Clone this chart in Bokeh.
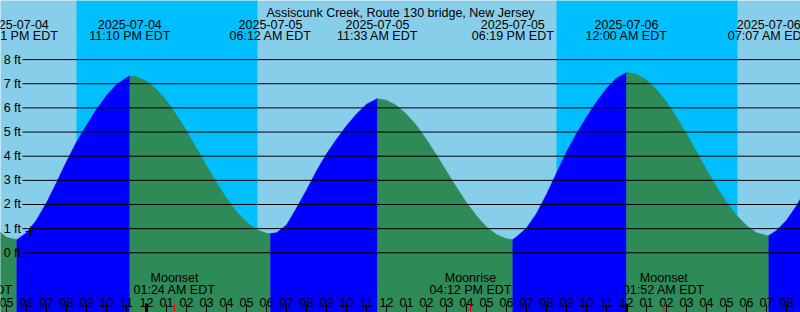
import pandas as pd
from bokeh.plotting import figure
from bokeh.models import Range1d, ColumnDataSource
from bokeh.core.properties import value
from bokeh.embed import file_html
from bokeh.resources import INLINE

# ---------------- data ----------------
TITLE = "Assiscunk Creek, Route 130 bridge, New Jersey"
BASE = pd.Timestamp("2025-07-04 00:00")

# tide extremes (high / low)
event_times = ["2025-07-04 17:31", "2025-07-04 23:10", "2025-07-05 06:12",
               "2025-07-05 11:33", "2025-07-05 18:19", "2025-07-06 00:00",
               "2025-07-06 07:07"]
event_heights = [0.54, 7.33, 0.80, 6.38, 0.55, 7.47, 0.72]
event_date_labels = ["2025-07-04", "2025-07-04", "2025-07-05", "2025-07-05",
                     "2025-07-05", "2025-07-06", "2025-07-06"]
event_time_labels = ["05:31 PM EDT", "11:10 PM EDT", "06:12 AM EDT",
                     "11:33 AM EDT", "06:19 PM EDT", "12:00 AM EDT",
                     "07:07 AM EDT"]

# tide level every 30 minutes from 2025-07-04 16:30
curve_start = "2025-07-04 16:30"
curve_heights = [
    0.98, 0.64, 0.55, 0.83, 1.36, 2.07, 2.91, 3.78, 4.59, 5.28, 5.94, 6.51, 6.97, 7.25,
    7.29, 7.11, 6.77, 6.30, 5.71, 5.05, 4.33, 3.61, 2.90, 2.26, 1.70, 1.26, 0.96, 0.81,
    0.83, 1.15, 1.85, 2.60, 3.39, 4.10, 4.70, 5.26, 5.75, 6.15, 6.37,
    6.32, 6.10, 5.74, 5.27, 4.69, 4.05, 3.38, 2.71, 2.08, 1.53, 1.07, 0.76, 0.58,
    0.66, 1.03, 1.63, 2.42, 3.30, 4.18, 4.94, 5.62, 6.25, 6.80, 7.23, 7.47,
    7.39, 7.15, 6.76, 6.24, 5.62, 4.92, 4.18, 3.44, 2.73, 2.09, 1.55, 1.13, 0.83, 0.72,
    0.92, 1.35, 1.95, 2.68,
]

# night (sunset -> sunrise)
night_start = ["2025-07-04 20:30", "2025-07-05 20:30"]
night_end = ["2025-07-05 05:33", "2025-07-06 05:33"]

# moon events
moon_times = ["2025-07-04 15:14", "2025-07-05 01:24", "2025-07-05 16:12", "2025-07-06 01:52"]
moon_names = ["Moonrise", "Moonset", "Moonrise", "Moonset"]
moon_labels = ["03:14 PM EDT", "01:24 AM EDT", "04:12 PM EDT", "01:52 AM EDT"]

# level axis
level_ticks = [0, 1, 2, 3, 4, 5, 6, 7, 8]
level_labels = ["0 ft", "1 ft", "2 ft", "3 ft", "4 ft", "5 ft", "6 ft", "7 ft", "8 ft"]

# mark
mark_time = ["2025-07-04 18:12"]
mark_level = [0.88]

# ---------------- layout / style ----------------
W, H = 800, 312
X0, X1 = 16.7, 56.7          # hours since 2025-07-04 00:00
Y_TOP, Y_BOT = 10.447, -2.472
DAY = "#87CEEB"
NIGHT = "#00BFFF"
RISE = "#0000FF"
FALL = "#2E8B57"
FONT = value("Liberation Sans")
FS = "12.5px"


def hrs(s):
    return (pd.Timestamp(s) - BASE) / pd.Timedelta(hours=1)


def py(pix):  # pixel row from top -> data y
    return Y_TOP - pix * (Y_TOP - Y_BOT) / H


def px(pix):  # pixel column -> data x
    return X0 + pix * (X1 - X0) / W


ev_t = [hrs(s) for s in event_times]
grid_t = [hrs(curve_start) + 0.5 * i for i in range(len(curve_heights))]

df = pd.concat([
    pd.DataFrame({"t": grid_t, "h": curve_heights, "ev": 0}),
    pd.DataFrame({"t": ev_t, "h": event_heights, "ev": 1}),
])
df["tr"] = df["t"].round(4)
df = df.sort_values(["tr", "ev"]).drop_duplicates("tr", keep="last").sort_values("t")
t = df["t"].to_numpy()
h = df["h"].to_numpy()

p = figure(width=W, height=H, x_range=Range1d(X0, X1), y_range=Range1d(Y_BOT, Y_TOP),
           output_backend="svg", toolbar_location=None, min_border=0,
           x_axis_type=None, y_axis_type=None,
           background_fill_color=DAY, border_fill_color=DAY, outline_line_color=None)
p.grid.visible = False

# night shading
p.quad(left=[hrs(s) for s in night_start], right=[hrs(s) for s in night_end],
       bottom=Y_BOT, top=Y_TOP, fill_color=NIGHT, line_color=None)

# tide fill: rising blue, falling green
bounds = [t[0]] + ev_t + [t[-1]]
xs, ys, cols = [], [], []
for a, b in zip(bounds[:-1], bounds[1:]):
    m = (t >= a - 1e-9) & (t <= b + 1e-9)
    tx = list(t[m])
    hy = list(h[m])
    xs.append(tx + [b, a])
    ys.append(hy + [Y_BOT, Y_BOT])
    cols.append(RISE if hy[-1] > hy[0] else FALL)
p.patches(xs="xs", ys="ys", fill_color="c", line_color="c", line_width=0.5,
          source=ColumnDataSource(dict(xs=xs, ys=ys, c=cols)))

# level lines and labels
p.segment(x0=px(22), x1=X1, y0=level_ticks, y1=level_ticks, line_color="black", line_width=1)
p.text(x=px(20.5), y=level_ticks, text=level_labels, text_align="right", text_baseline="middle",
       text_font=FONT, text_font_size=FS, text_color="black")

# title
p.text(x=[(X0 + X1) / 2], y=[py(12)], text=[TITLE], text_align="center",
       text_baseline="alphabetic", text_font=FONT, text_font_size=FS, text_color="black")

# event labels
p.text(x=ev_t, y=py(23.5), text=event_date_labels, text_align="center", text_baseline="alphabetic",
       text_font=FONT, text_font_size=FS, text_color="black")
p.text(x=ev_t, y=py(35.5), text=event_time_labels, text_align="center", text_baseline="alphabetic",
       text_font=FONT, text_font_size=FS, text_color="black")

# hour labels and ticks
hours = list(range(16, 58))
hour_txt = ["%02d" % (((hh % 12) or 12)) for hh in hours]
p.text(x=hours, y=py(302), text=hour_txt, text_align="center", text_baseline="alphabetic",
       text_font=FONT, text_font_size=FS, text_color="black")
reg = [hh for hh in hours if hh % 24 != 0]
mid = [hh for hh in hours if hh % 24 == 0]
p.segment(x0=reg, x1=reg, y0=py(304), y1=Y_BOT, line_color="black", line_width=1)
p.segment(x0=mid, x1=mid, y0=py(303), y1=Y_BOT, line_color="black", line_width=3)

# moon events
mt = [hrs(s) for s in moon_times]
p.text(x=mt, y=py(277.5), text=moon_names, text_align="center", text_baseline="alphabetic",
       text_font=FONT, text_font_size=FS, text_color="black")
p.text(x=mt, y=py(289.5), text=moon_labels, text_align="center", text_baseline="alphabetic",
       text_font=FONT, text_font_size=FS, text_color="black")
p.segment(x0=mt, x1=mt, y0=py(304), y1=Y_BOT, line_color="red", line_width=1)

# mark
p.scatter(x=[hrs(s) for s in mark_time], y=mark_level, marker="cross", size=10,
          line_color="black", line_width=1)

open("out.html", "w").write(file_html(p, INLINE))
